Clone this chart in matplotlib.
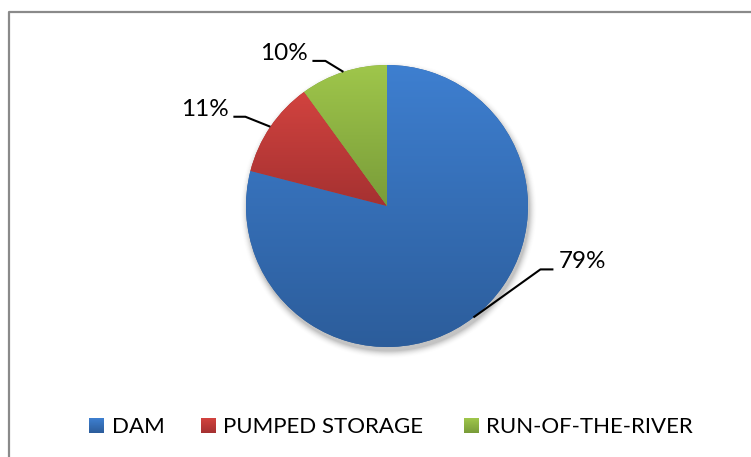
import numpy as np
import matplotlib
matplotlib.use("Agg")
import matplotlib.pyplot as plt
from matplotlib.colors import to_rgb

# Hydropower plant types and their share of installed capacity
categories = ["DAM", "PUMPED STORAGE", "RUN-OF-THE-RIVER"]
shares = [79, 11, 10]

# light (top) and dark (bottom) ends of each slice's fill gradient
top_colors = ["#3e7fd0", "#d2433f", "#9fc64b"]
bottom_colors = ["#2c5d9b", "#a53131", "#799c39"]

plt.rcParams["font.family"] = ["Lato", "DejaVu Sans"]

W, H = 751, 457
fig = plt.figure(figsize=(W / 100, H / 100), dpi=100)
ax = fig.add_axes([0, 0, 1, 1])

cx, cy, R = 387, H - 206, 141


def gradient(c_top, c_bot, n=256):
    t = np.linspace(0, 1, n)[:, None]
    a, b = np.array(to_rgb(c_top)), np.array(to_rgb(c_bot))
    return (a * (1 - t) + b * t)[:, None, :]


# soft drop shadow beneath the pie
yy, xx = np.mgrid[0:H, 0:W] + 0.5
d = np.hypot(xx - (cx + 1.5), yy - (cy - 4)) - R
alpha = 0.42 * np.clip(1 - d / 8, 0, 1) ** 2
shadow = np.zeros((H, W, 4))
shadow[..., :3] = 0.45
shadow[..., 3] = alpha
ax.imshow(shadow, extent=(0, W, 0, H), origin="lower", zorder=0.5,
          interpolation="bilinear")

wedges, _ = ax.pie(shares, startangle=90, counterclock=False,
                   center=(cx, cy), radius=R, frame=True,
                   colors=bottom_colors, wedgeprops=dict(linewidth=0))

for w, ct, cb in zip(wedges, top_colors, bottom_colors):
    w.set_zorder(1)
    ext = w.get_path().get_extents()
    im = ax.imshow(gradient(ct, cb), extent=(ext.x0, ext.x1, ext.y0, ext.y1),
                   origin="upper", aspect="auto", zorder=1.1,
                   interpolation="bilinear")
    im.set_clip_path(w)

# outside percentage labels with elbow leader lines
elbows = [(67, 48), (-25, 10), (-18, 11)]
tails = [13, 12, 13]
for w, v, (ex, ey), tl in zip(wedges, shares, elbows, tails):
    th = np.deg2rad((w.theta1 + w.theta2) / 2)
    px, py = cx + R * np.cos(th), cy + R * np.sin(th)
    qx, qy = px + ex, py + ey
    side = 1 if ex > 0 else -1
    rx = qx + side * tl
    ax.plot([px, qx, rx], [py, qy, qy], color="black", lw=1.5,
            zorder=3, solid_capstyle="butt")
    ax.text(rx + side * 5, qy + 1, f"{v}%", fontsize=17.5,
            ha="left" if side > 0 else "right", va="baseline", zorder=3)

# legend row
sq_x = [89, 201, 464]
txt_x = [112, 223, 486]
base = H - 433
for name, ct, cb, sx, tx in zip(categories, top_colors, bottom_colors, sq_x, txt_x):
    ax.imshow(gradient(ct, cb, 32), extent=(sx, sx + 15, base, base + 15),
              origin="upper", aspect="auto", zorder=2)
    ax.text(tx, base, name, fontsize=16, ha="left", va="baseline", zorder=3)

# chart area border (top and left edges visible)
ax.plot([9, 9, W + 5], [-5, H - 12, H - 12], color="#8a8a8a", lw=1.6,
        clip_on=False, zorder=4)

ax.set_xlim(0, W)
ax.set_ylim(0, H)
ax.set_aspect("equal")
ax.axis("off")

fig.savefig("out.png", dpi=100)
